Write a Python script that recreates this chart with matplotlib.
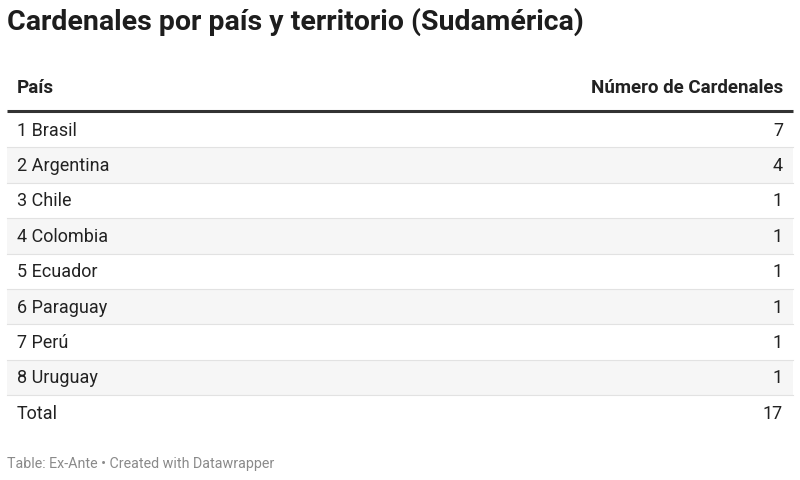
import matplotlib.pyplot as plt
from matplotlib.patches import Rectangle

plt.rcParams['font.family'] = ['Roboto', 'DejaVu Sans']

paises = ["1 Brasil", "2 Argentina", "3 Chile", "4 Colombia", "5 Ecuador",
          "6 Paraguay", "7 Perú", "8 Uruguay"]
cardenales = [7, 4, 1, 1, 1, 1, 1, 1]
total_label = "Total"
total = 17

fig = plt.figure(figsize=(8, 4.8), dpi=100)
ax = fig.add_axes([0, 0, 1, 1])
ax.set_xlim(0, 800)
ax.set_ylim(480, 0)
ax.axis("off")

ax.text(7, 22, "Cardenales por país y territorio (Sudamérica)", fontsize=20.5,
        fontweight="bold", va="center", color="#1d1d1d")
ax.text(17, 88, "País", fontsize=13.5, fontweight="bold", va="center", color="#222")
ax.text(783, 88, "Número de Cardenales", fontsize=13.5, fontweight="bold",
        va="center", ha="right", color="#222")
ax.plot([7, 793], [111, 111], color="#333", lw=2.2, solid_capstyle="butt")

top = 112
h = 35.4
rows = list(zip(paises, cardenales)) + [(total_label, total)]
for i, (p, c) in enumerate(rows):
    y0 = top + i * h
    if i % 2 == 1:
        ax.add_patch(Rectangle((7, y0), 786, h, color="#f6f6f6", lw=0))
    if i > 0:
        ax.plot([7, 793], [y0, y0], color="#e2e2e2", lw=0.8)
    ax.text(17, y0 + h / 2 + 1, p, fontsize=13, va="center", color="#222")
    ax.text(783, y0 + h / 2 + 1, str(c), fontsize=13, va="center", ha="right", color="#222")

ax.text(7, 464, "Table: Ex-Ante • Created with Datawrapper", fontsize=10.3,
        va="center", color="#8a8a8a")

fig.savefig("out.png", dpi=100)
